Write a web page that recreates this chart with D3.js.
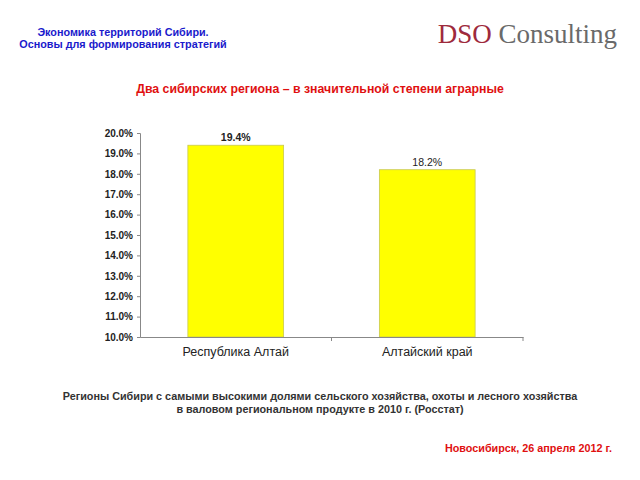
<!DOCTYPE html>
<html><head><meta charset="utf-8">
<script src="https://cdn.jsdelivr.net/npm/d3@7"></script>
<style>body{margin:0;background:#fff}svg{display:block}</style>
</head><body>
<script>
const categories = ["Республика Алтай", "Алтайский край"];
const values = [19.4, 18.2];
const valueLabels = ["19.4%", "18.2%"];
const yTicks = [10, 11, 12, 13, 14, 15, 16, 17, 18, 19, 20];

const W = 640, H = 480;
const svg = d3.select("body").append("svg").attr("width", W).attr("height", H);
const font = "Arial, 'Liberation Sans', sans-serif";

// header
svg.append("text").attr("x", 123).attr("y", 36).attr("text-anchor", "middle")
  .attr("font-family", font).attr("font-size", 10.8).attr("font-weight", "bold").attr("fill", "#1a1acc")
  .text("Экономика территорий Сибири.");
svg.append("text").attr("x", 123).attr("y", 48).attr("text-anchor", "middle")
  .attr("font-family", font).attr("font-size", 10.8).attr("font-weight", "bold").attr("fill", "#1a1acc")
  .text("Основы для формирования стратегий");

const logo = svg.append("text").attr("x", 617).attr("y", 43).attr("text-anchor", "end")
  .attr("font-family", "'Liberation Serif', 'DejaVu Serif', serif").attr("font-size", 27);
logo.append("tspan").attr("fill", "#9e2a3c").text("DSO ");
logo.append("tspan").attr("fill", "#6a6a6a").text("Consulting");

svg.append("text").attr("x", 320).attr("y", 93).attr("text-anchor", "middle")
  .attr("font-family", font).attr("font-size", 12.3).attr("font-weight", "bold").attr("fill", "#e01010")
  .text("Два сибирских региона – в значительной степени аграрные");

// chart
const x = d3.scaleBand().domain(categories).range([140, 523]).paddingInner(0.5).paddingOuter(0.25);
const y = d3.scaleLinear().domain([10, 20]).range([337, 133]);

svg.append("g").selectAll("rect").data(values).join("rect")
  .attr("x", (d, i) => x(categories[i])).attr("width", x.bandwidth())
  .attr("y", d => y(d)).attr("height", d => y(10) - y(d))
  .attr("fill", "#ffff00").attr("stroke", "#c8c850").attr("stroke-width", 0.8);

svg.append("g").selectAll("text").data(values).join("text")
  .attr("x", (d, i) => x(categories[i]) + x.bandwidth() / 2).attr("y", d => y(d) - 4)
  .attr("text-anchor", "middle").attr("font-family", font).attr("font-size", 10.5)
  .attr("font-weight", (d, i) => i === 0 ? "bold" : "normal").attr("fill", "#222")
  .text((d, i) => valueLabels[i]);

const yAxis = svg.append("g").attr("transform", "translate(140,0)")
  .call(d3.axisLeft(y).tickValues(yTicks).tickFormat(d => d.toFixed(1) + "%").tickSize(3).tickSizeOuter(3));
yAxis.selectAll("text").attr("font-family", font).attr("font-size", 10).attr("font-weight", "bold").attr("fill", "#222").attr("dx", "-1");
yAxis.selectAll("path,line").attr("stroke", "#888");

const xAxis = svg.append("g").attr("transform", "translate(0,337)")
  .call(d3.axisBottom(x).tickSize(0).tickSizeOuter(0).tickPadding(10));
xAxis.selectAll("text").attr("font-family", font).attr("font-size", 12.5).attr("fill", "#222");
xAxis.select("path").attr("stroke", "#888");
// category separator ticks
svg.append("g").selectAll("line").data([x.range()[0] + x.step(), x.range()[1]]).join("line")
  .attr("x1", d => d).attr("x2", d => d).attr("y1", 337).attr("y2", 341).attr("stroke", "#888");

// caption
svg.append("text").attr("x", 320).attr("y", 400).attr("text-anchor", "middle")
  .attr("font-family", font).attr("font-size", 10.8).attr("font-weight", "bold").attr("fill", "#333")
  .text("Регионы Сибири с самыми высокими долями сельского хозяйства, охоты и лесного хозяйства");
svg.append("text").attr("x", 320).attr("y", 413).attr("text-anchor", "middle")
  .attr("font-family", font).attr("font-size", 10.8).attr("font-weight", "bold").attr("fill", "#333")
  .text("в валовом региональном продукте в 2010 г.  (Росстат)");

svg.append("text").attr("x", 612).attr("y", 452).attr("text-anchor", "end")
  .attr("font-family", font).attr("font-size", 10.8).attr("font-weight", "bold").attr("fill", "#e01010")
  .text("Новосибирск, 26 апреля 2012 г.");
</script>
</body></html>
